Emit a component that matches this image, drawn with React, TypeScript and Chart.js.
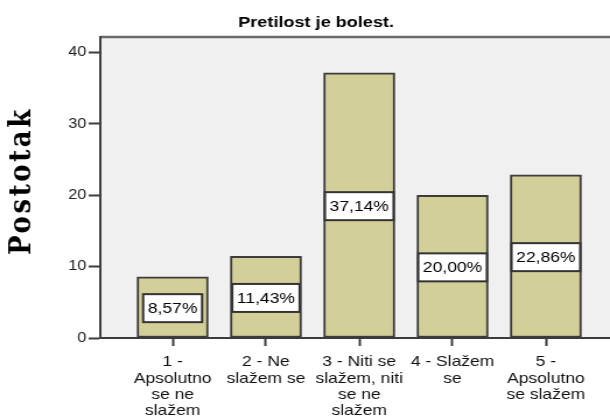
import React, { useEffect, useRef } from "react";
import { Chart, registerables } from "chart.js";

Chart.register(...registerables);

const titleText = "Pretilost je bolest.";
const yTitle = "Postotak";
const categories: string[][] = [
  ["1 -", "Apsolutno", "se ne", "slažem"],
  ["2 - Ne", "slažem se"],
  ["3 - Niti se", "slažem, niti", "se ne", "slažem"],
  ["4 - Slažem", "se"],
  ["5 -", "Apsolutno", "se slažem"],
];
const percentValues = [8.57, 11.43, 37.14, 20.0, 22.86];
const yTicks = [0, 10, 20, 30, 40];

const SANS = '"Liberation Sans", Arial, sans-serif';
const W = 523; // drawing width; displayed stretched to 610px
const H = 418;

export default function App() {
  const ref = useRef<HTMLCanvasElement>(null);
  useEffect(() => {
    const canvas = ref.current!;
    const positions = categories.map((_, i) => i + 1);
    const decor = {
      id: "decor",
      beforeDraw(chart: any) {
        const { ctx, chartArea } = chart;
        ctx.save();
        ctx.fillStyle = "#f0f0f0";
        ctx.fillRect(chartArea.left, chartArea.top, W - chartArea.left, chartArea.bottom - chartArea.top);
        ctx.strokeStyle = "#6a6a6a";
        ctx.lineWidth = 2.5;
        ctx.beginPath();
        ctx.moveTo(chartArea.left, chartArea.top);
        ctx.lineTo(W, chartArea.top);
        ctx.stroke();
        ctx.restore();
      },
      afterDraw(chart: any) {
        const { ctx } = chart;
        ctx.save();
        ctx.fillStyle = "#000";
        ctx.font = `bold 15.5px ${SANS}`;
        ctx.textAlign = "center";
        ctx.textBaseline = "middle";
        ctx.fillText(titleText, 271, 23);
        ctx.translate(19, 181);
        ctx.rotate(-Math.PI / 2);
        ctx.font = `bold 26px "DejaVu Serif", "Liberation Serif", serif`;
        (ctx as any).letterSpacing = "2.6px";
        ctx.fillText(yTitle, 0, 0);
        ctx.restore();
      },
      afterDatasetsDraw(chart: any) {
        const { ctx } = chart;
        const meta = chart.getDatasetMeta(0);
        ctx.save();
        ctx.font = `15px ${SANS}`;
        ctx.textAlign = "center";
        ctx.textBaseline = "middle";
        meta.data.forEach((bar: any, i: number) => {
          const txt = percentValues[i].toFixed(2).replace(".", ",") + "%";
          const cy = (bar.y + bar.base) / 2 + 1;
          const tw = ctx.measureText(txt).width + 8;
          const th = 28;
          ctx.fillStyle = "#fff";
          ctx.fillRect(bar.x - tw / 2, cy - th / 2, tw, th);
          ctx.strokeStyle = "#333";
          ctx.lineWidth = 2;
          ctx.strokeRect(bar.x - tw / 2, cy - th / 2, tw, th);
          ctx.fillStyle = "#000";
          ctx.fillText(txt, bar.x, cy + 1);
        });
        ctx.restore();
      },
    };
    const chart = new Chart(canvas, {
      type: "bar",
      data: {
        datasets: [
          {
            data: positions.map((x, i) => ({ x, y: percentValues[i] })),
            backgroundColor: "#d3cf98",
            borderColor: "#3c3c3c",
            borderWidth: 2,
            borderSkipped: false,
            barThickness: 61,
          },
        ],
      },
      options: {
        animation: false,
        responsive: false,
        maintainAspectRatio: false,
        devicePixelRatio: 1,
        layout: { padding: { top: 37, left: 0, right: 0, bottom: 0 } },
        plugins: { legend: { display: false }, tooltip: { enabled: false }, title: { display: false } },
        scales: {
          x: {
            type: "linear",
            offset: false,
            min: 0.225,
            max: 1 + (W - 148) / 80,
            afterBuildTicks: (s: any) => {
              s.ticks = positions.map((v) => ({ value: v }));
            },
            afterFit: (s: any) => {
              s.height = 80;
            },
            grid: {
              offset: false,
              drawOnChartArea: false,
              drawTicks: true,
              tickLength: 8,
              tickWidth: 2,
              tickColor: "#3c3c3c",
            },
            border: { display: true, color: "#3c3c3c", width: 2 },
            ticks: {
              autoSkip: false,
              maxRotation: 0,
              minRotation: 0,
              padding: 8,
              color: "#111",
              font: { family: SANS, size: 15, lineHeight: 1.09 },
              callback: (v: any) => categories[Number(v) - 1] ?? "",
            },
          },
          y: {
            min: 0,
            max: 42.16,
            afterBuildTicks: (s: any) => {
              s.ticks = yTicks.map((v) => ({ value: v }));
            },
            afterFit: (s: any) => {
              s.width = 86;
            },
            grid: {
              drawOnChartArea: false,
              drawTicks: true,
              tickLength: 10,
              tickWidth: 2,
              tickColor: "#3c3c3c",
            },
            border: { display: true, color: "#3c3c3c", width: 2 },
            ticks: {
              padding: 2,
              color: "#222",
              font: { family: SANS, size: 14 },
            },
          },
        },
      },
      plugins: [decor],
    } as any);
    return () => chart.destroy();
  }, []);
  return (
    <div style={{ position: "fixed", left: 0, top: 0, width: 610, height: 418, background: "#fff" }}>
      <canvas
        ref={ref}
        width={W}
        height={H}
        style={{ display: "block", width: "610px", height: "418px" }}
      />
    </div>
  );
}
